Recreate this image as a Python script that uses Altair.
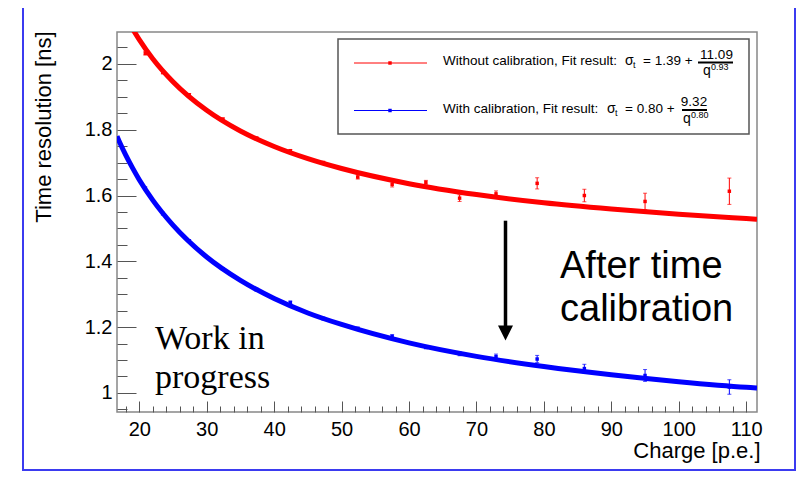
import altair as alt
import pandas as pd

# ---------------- data ----------------
charge = [20.9, 23.5, 27.4, 32.4, 37.4, 42.4, 47.3, 52.4, 57.5, 62.5, 67.5, 72.9, 79.0, 86.0, 95.0, 107.5]
res_nocal = [2.032, 1.974, 1.906, 1.832, 1.774, 1.736, 1.700, 1.656, 1.634, 1.640, 1.592, 1.605, 1.637, 1.600, 1.582, 1.613]
err_nocal = [0.005, 0.004, 0.004, 0.004, 0.004, 0.004, 0.004, 0.006, 0.008, 0.006, 0.010, 0.009, 0.017, 0.019, 0.025, 0.040]
res_cal = [1.622, 1.545, 1.462, 1.376, 1.314, 1.275, 1.226, 1.196, 1.172, 1.139, 1.119, 1.110, 1.103, 1.074, 1.053, 1.018]
err_cal = [0.004, 0.004, 0.004, 0.004, 0.004, 0.004, 0.004, 0.004, 0.005, 0.005, 0.006, 0.008, 0.011, 0.013, 0.018, 0.022]

# fitted curves at these charges
fit_q = [16.7, 17, 18, 19, 20, 22, 25, 30, 35, 40, 45, 50, 60, 70, 80, 90, 100, 110, 111.6]
fit_nocal = [2.199, 2.186, 2.144, 2.107, 2.074, 2.016, 1.946, 1.859, 1.796, 1.749, 1.712, 1.682,
             1.636, 1.603, 1.578, 1.559, 1.543, 1.530, 1.528]
fit_cal = [1.780, 1.766, 1.723, 1.684, 1.648, 1.586, 1.510, 1.413, 1.342, 1.287, 1.243, 1.208,
           1.152, 1.111, 1.080, 1.055, 1.034, 1.017, 1.015]

series_names = ["Without calibration", "With calibration"]
series_colors = ["#ff0000", "#0000ff"]

x_major = [20, 30, 40, 50, 60, 70, 80, 90, 100, 110]
x_minor = [18, 22, 24, 26, 28, 32, 34, 36, 38, 42, 44, 46, 48, 52, 54, 56, 58, 62, 64, 66, 68,
           72, 74, 76, 78, 82, 84, 86, 88, 92, 94, 96, 98, 102, 104, 106, 108]
y_major = [1.0, 1.2, 1.4, 1.6, 1.8, 2.0]
y_minor = [0.95, 1.05, 1.1, 1.15, 1.25, 1.3, 1.35, 1.45, 1.5, 1.55, 1.65, 1.7, 1.75, 1.85, 1.9, 1.95, 2.05]

# ---------------- tables ----------------
pts = pd.DataFrame({
    "charge": charge * 2,
    "res": res_nocal + res_cal,
    "err": err_nocal + err_cal,
    "series": [series_names[0]] * len(charge) + [series_names[1]] * len(charge),
})
fit = pd.DataFrame({
    "q": fit_q * 2,
    "v": fit_nocal + fit_cal,
    "series": [series_names[0]] * len(fit_q) + [series_names[1]] * len(fit_q),
})
one = pd.DataFrame({"k": [0]})

W, H = 640, 380
xs = alt.Scale(domain=[16.7, 111.6], nice=False, zero=False)
ys = alt.Scale(domain=[0.942, 2.097], nice=False, zero=False)
col = alt.Color("series:N", scale=alt.Scale(domain=series_names, range=series_colors), legend=None)

FONT = "Liberation Sans"

ax_bottom = alt.Axis(orient="bottom", values=x_major, ticks=False, tickSize=0, labelPadding=7,
                     labelFontSize=20, format="d", domain=False, grid=False,
                     title="Charge [p.e.]", titleFontSize=22, titleX=643, titleY=45,
                     titleAlign="right", titleBaseline="alphabetic", labelOverlap=False)
ax_left = alt.Axis(orient="left", values=y_major, ticks=False, tickSize=0, labelPadding=5,
                   labelFontSize=20, format="~g", domain=False, grid=False,
                   title="Time resolution [ns]", titleFontSize=22, titleAngle=270,
                   titleX=-67, titleY=-1, titleAlign="right", titleBaseline="alphabetic",
                   labelOverlap=False)
ax_top_major = alt.Axis(orient="top", offset=-H, values=x_major, tickSize=11, labels=False,
                        domain=False, grid=False, title=None)
ax_right_major = alt.Axis(orient="right", offset=-W, values=y_major, tickSize=19, labels=False,
                          domain=False, grid=False, title=None)
ax_top_minor = alt.Axis(orient="top", offset=-H, values=x_minor, tickSize=6, labels=False,
                        domain=False, grid=False, title=None)
ax_right_minor = alt.Axis(orient="right", offset=-W, values=y_minor, tickSize=10, labels=False,
                          domain=False, grid=False, title=None)

# outer blue frame
frame = alt.Chart(one).mark_rect(fill="white", fillOpacity=0, stroke="#3b3bf0", strokeWidth=2).encode(
    x=alt.value(-94), x2=alt.value(678), y=alt.value(-29), y2=alt.value(438))

curves = alt.Chart(fit).mark_line(strokeWidth=5, clip=True, interpolate="monotone").encode(
    x=alt.X("q:Q", scale=xs, axis=ax_bottom),
    y=alt.Y("v:Q", scale=ys, axis=ax_left),
    color=col, detail="series:N")

bars = alt.Chart(pts).transform_calculate(
    lo="datum.res - datum.err", hi="datum.res + datum.err"
).mark_rule(strokeWidth=1).encode(
    x=alt.X("charge:Q", scale=xs, axis=ax_top_minor),
    y=alt.Y("lo:Q", scale=ys, axis=ax_right_minor),
    y2="hi:Q", color=col)

caps_lo = alt.Chart(pts).transform_calculate(lo="datum.res - datum.err").mark_tick(
    orient="horizontal", size=4, thickness=1).encode(
    x=alt.X("charge:Q", scale=xs, axis=None), y=alt.Y("lo:Q", scale=ys, axis=None), color=col)
caps_hi = alt.Chart(pts).transform_calculate(hi="datum.res + datum.err").mark_tick(
    orient="horizontal", size=4, thickness=1).encode(
    x=alt.X("charge:Q", scale=xs, axis=None), y=alt.Y("hi:Q", scale=ys, axis=None), color=col)

points = alt.Chart(pts).mark_square(size=12, opacity=1).encode(
    x=alt.X("charge:Q", scale=xs, axis=ax_top_major),
    y=alt.Y("res:Q", scale=ys, axis=ax_right_major),
    color=col)


def txt(s, x, y, size, font=FONT, align="left", color="black"):
    return alt.Chart(one).mark_text(fontSize=size, font=font, align=align, baseline="alphabetic",
                                    color=color).encode(
        x=alt.value(x), y=alt.value(y), text=alt.value(s))


def hline(x1, x2, y, color, width):
    return alt.Chart(one).mark_rule(color=color, strokeWidth=width).encode(
        x=alt.value(x1), x2=alt.value(x2), y=alt.value(y))


def dot(x, y, color):
    return alt.Chart(one).mark_square(size=12, opacity=1, color=color).encode(
        x=alt.value(x), y=alt.value(y))


legend_box = alt.Chart(one).mark_rect(fill="white", stroke="#555555", strokeWidth=1.5).encode(
    x=alt.value(221), x2=alt.value(632), y=alt.value(7), y2=alt.value(102))

legend = [
    legend_box,
    hline(237, 310, 31, series_colors[0], 1), dot(273, 31, series_colors[0]),
    hline(237, 310, 78.5, series_colors[1], 1), dot(273, 78.5, series_colors[1]),
    txt("Without calibration, Fit result:", 326, 33, 13.5),
    txt("σ", 508, 33, 14), txt("t", 516, 36, 9), txt("= 1.39 +", 526, 33, 13.5),
    txt("11.09", 599.5, 27, 13.5, align="center"), hline(581, 616, 30.5, "black", 2),
    txt("q", 586, 42.5, 14), txt("0.93", 594, 38, 9),
    txt("With calibration, Fit result:", 326, 81, 13.5),
    txt("σ", 490, 81, 14), txt("t", 498, 84, 9), txt("= 0.80 +", 508, 81, 13.5),
    txt("9.32", 577, 74, 13.5, align="center"), hline(565, 590, 78, "black", 2),
    txt("q", 566, 90.5, 14), txt("0.80", 574, 86, 9),
]

notes = [
    txt("Work in", 38, 317, 34, font="Liberation Serif"),
    txt("progress", 38, 356, 34, font="Liberation Serif"),
    txt("After time", 443, 246, 38),
    txt("calibration", 443, 289, 38),
]

arrow_line = alt.Chart(one).mark_rule(color="black", strokeWidth=3.5).encode(
    x=alt.value(388.5), y=alt.value(188.7), y2=alt.value(296))
arrow_head = alt.Chart(one).mark_point(shape="M-1,-1L1,-1L0,1Z", filled=True, opacity=1,
                                        color="black", size=225).encode(
    x=alt.value(388.5), y=alt.value(301))

chart = alt.layer(
    frame, curves, bars, caps_lo, caps_hi, points, *legend, *notes, arrow_line, arrow_head
).resolve_axis(x="independent", y="independent").properties(
    width=W, height=H,
    autosize=alt.AutoSizeParams(type="none"),
    padding={"left": 109, "top": 24, "right": 40, "bottom": 60},
    background="white",
).configure_view(stroke="#888888", strokeWidth=1.5).configure_axis(
    labelFont=FONT, titleFont=FONT, labelColor="black", titleColor="black",
    titleFontWeight="normal", tickColor="#555555", tickWidth=1,
)

chart.save("out.html", embed_options={"renderer": "svg", "actions": False})
